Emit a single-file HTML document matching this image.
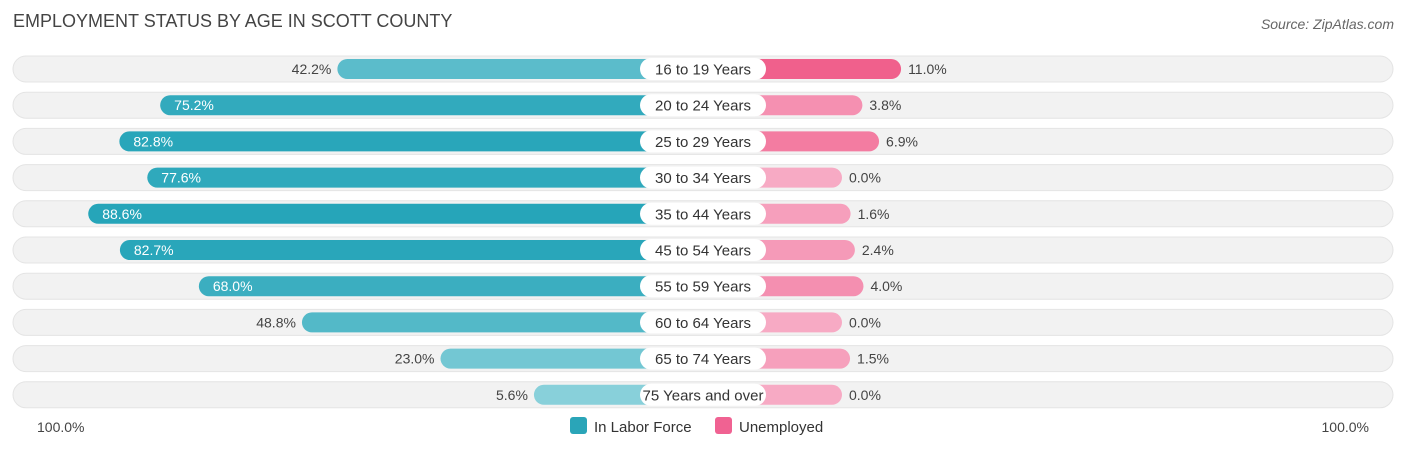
<!DOCTYPE html>
<html><head><meta charset="utf-8"><style>
body{margin:0;background:#fff;font-family:"Liberation Sans",sans-serif;}
#c{position:relative;width:1406px;height:451px;overflow:hidden}
.t{position:absolute;white-space:nowrap}
</style></head><body>
<div id="c">
<div class="t" style="left:13px;top:11px;font-size:18px;color:#444">EMPLOYMENT STATUS BY AGE IN SCOTT COUNTY</div>
<div class="t" style="right:12px;top:16px;font-size:14px;color:#666;font-style:italic">Source: ZipAtlas.com</div>
<svg id="s" width="1406" height="451" style="position:absolute;left:0;top:0"></svg>
</div>
<script>
const categories=["16 to 19 Years","20 to 24 Years","25 to 29 Years","30 to 34 Years","35 to 44 Years","45 to 54 Years","55 to 59 Years","60 to 64 Years","65 to 74 Years","75 Years and over"];
const laborForce=[42.2,75.2,82.8,77.6,88.6,82.7,68.0,48.8,23.0,5.6];
const unemployed=[11.0,3.8,6.9,0.0,1.6,2.4,4.0,0.0,1.5,0.0];
const axisLabels=["100.0%","100.0%"];
const NS="http://www.w3.org/2000/svg",s=document.getElementById('s');
const cx=703,off=139,k=5.37,y0=69,dy=36.2;
function el(t,a,p){const e=document.createElementNS(NS,t);for(const q in a)e.setAttribute(q,a[q]);(p||s).appendChild(e);return e;}
function lx(v){return cx-off-k*v;}function rx(v){return cx+off+k*v;}
function mix(a,b,t){return 'rgb('+a.map((x,i)=>Math.round(x+(b[i]-x)*t)).join(',')+')';}
categories.forEach((c,i)=>{
 const y=y0+i*dy;
 const bg=el('rect',{x:13,y:y-13,width:1380,height:26,rx:13,fill:'#f2f2f2',stroke:'#e4e4e4'});
 
 const v=laborForce[i],u=unemployed[i];
 const lb=el('rect',{x:lx(v),y:y-10,width:cx-lx(v),height:20,rx:10,fill:mix([143,211,220],[38,165,185],Math.min(1,v/85))});
 
 const ub=el('rect',{x:cx,y:y-10,width:rx(u)-cx,height:20,rx:10,fill:mix([247,170,196],[240,96,140],Math.min(1,u/11))});
 
 const pill=el('rect',{x:cx-63,y:y-11,width:126,height:22,rx:11,fill:'#fff'});
 
 const ct=el('text',{x:cx,y:y+5.5,'text-anchor':'middle','font-size':15,fill:'#333'});ct.textContent=c;
 
 const inside=v>60;
 const vt=el('text',{x:inside?lx(v)+14:lx(v)-6,y:y+5,'text-anchor':inside?'start':'end','font-size':14,fill:inside?'#fff':'#444'});
 vt.textContent=v.toFixed(1)+'%';
 const ut=el('text',{x:rx(u)+7,y:y+5,'font-size':14,fill:'#444'});
 ut.textContent=u.toFixed(1)+'%';
});
const a1=el('text',{x:37,y:432,'font-size':14,fill:'#444'});a1.textContent=axisLabels[0];

const a2=el('text',{x:1369,y:432,'text-anchor':'end','font-size':14,fill:'#444'});a2.textContent=axisLabels[1];

const g1=el('rect',{x:570,y:417,width:17,height:17,rx:3,fill:'#2aa5b8'});

const l1=el('text',{x:594,y:432,'font-size':15,fill:'#333'});l1.textContent='In Labor Force';

const g2=el('rect',{x:715,y:417,width:17,height:17,rx:3,fill:'#f06292'});

const l2=el('text',{x:739,y:432,'font-size':15,fill:'#333'});l2.textContent='Unemployed';

</script>
</body></html>
